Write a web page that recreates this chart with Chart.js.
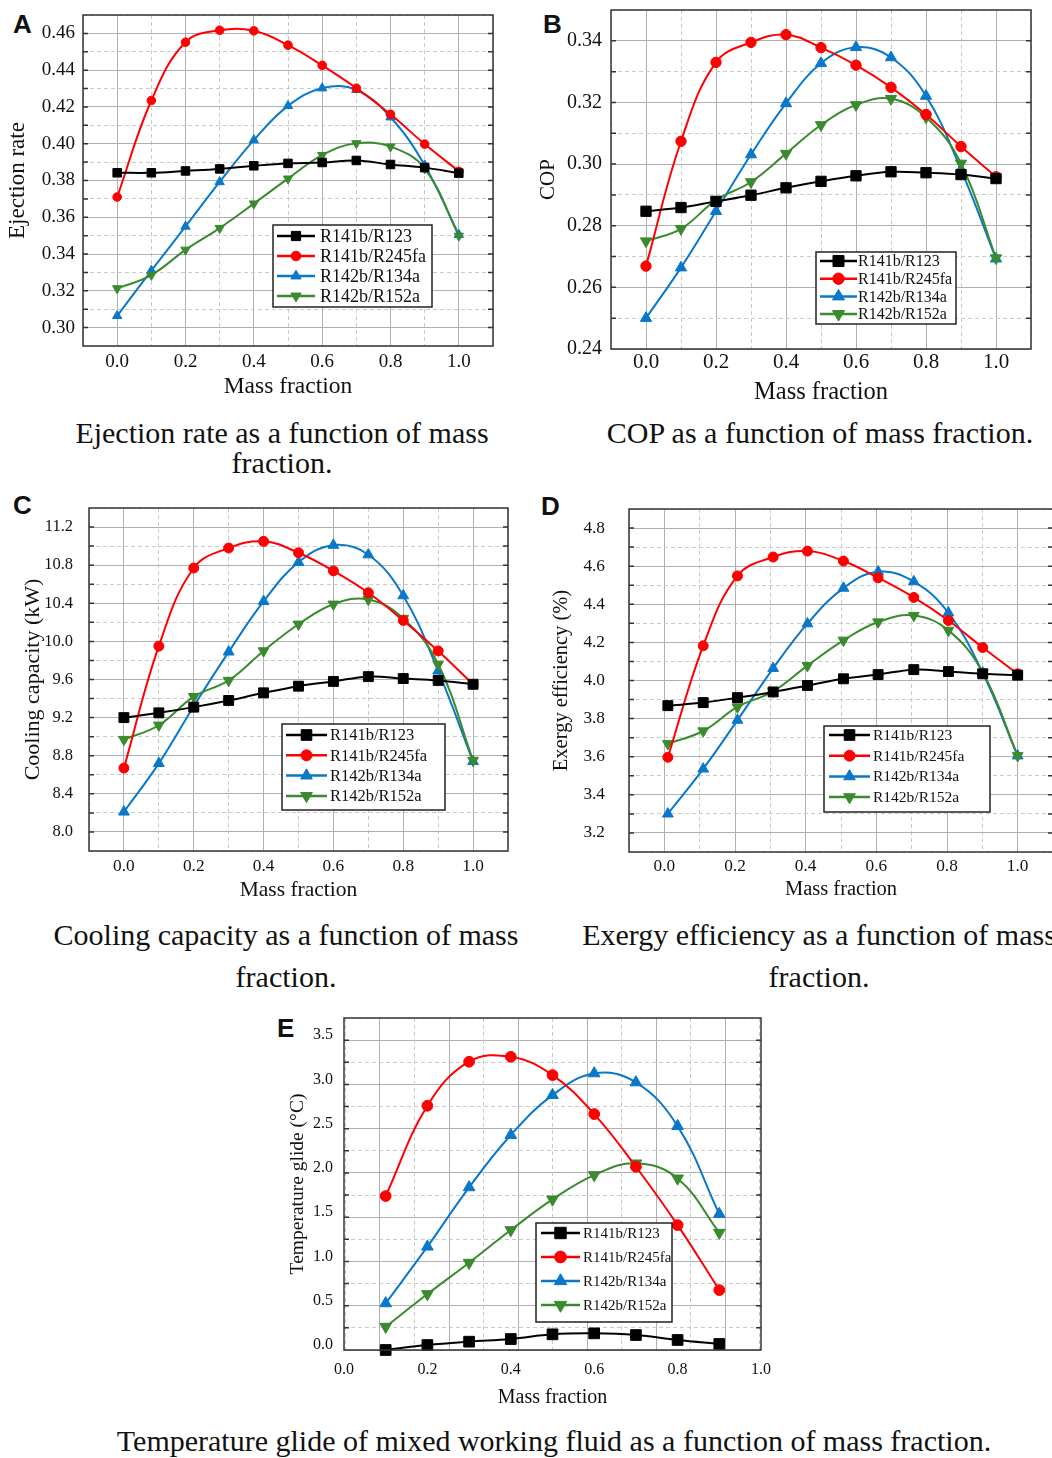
<!DOCTYPE html>
<html>
<head>
<meta charset="utf-8">
<title>Mass fraction performance charts</title>
<script src="https://cdn.jsdelivr.net/npm/chart.js@4.4.1/dist/chart.umd.min.js"></script>
<style>
  html, body { margin: 0; padding: 0; background: #fff; }
  body { position: relative; width: 1052px; height: 1458px; overflow: hidden; color: #111;
         font-family: 'Liberation Serif', 'Times New Roman', serif; }
  canvas { position: absolute; }
  .tag { position: absolute; font: bold 26px 'Liberation Sans', Arial, sans-serif; line-height: 26px; }
  .cap { position: absolute; font-size: 30px; text-align: center; white-space: nowrap; }
</style>
</head>
<body>
<div class="tag" style="left:13px;top:11px">A</div>
<div class="tag" style="left:543px;top:11px">B</div>
<div class="tag" style="left:13px;top:492px">C</div>
<div class="tag" style="left:541px;top:493px">D</div>
<div class="tag" style="left:277px;top:1015px">E</div>

<canvas id="chartA" width="510" height="405" style="left:0px;top:0px"></canvas>
<canvas id="chartB" width="522" height="410" style="left:530px;top:0px"></canvas>
<canvas id="chartC" width="530" height="420" style="left:0px;top:490px"></canvas>
<canvas id="chartD" width="530" height="420" style="left:540px;top:490px"></canvas>
<canvas id="chartE" width="510" height="410" style="left:270px;top:1005px"></canvas>

<div class="cap" style="left:32px;top:418px;width:500px;line-height:30px">Ejection rate as a function of mass<br>fraction.</div>
<div class="cap" style="left:570px;top:418px;width:500px;line-height:30px">COP as a function of mass fraction.</div>
<div class="cap" style="left:26px;top:914px;width:520px;line-height:42px">Cooling capacity as a function of mass<br>fraction.</div>
<div class="cap" style="left:559px;top:914px;width:520px;line-height:42px">Exergy efficiency as a function of mass<br>fraction.</div>
<div class="cap" style="left:54px;top:1426px;width:1000px;line-height:30px">Temperature glide of mixed working fluid as a function of mass fraction.</div>

<script>
const SERIF = "'Liberation Serif', 'Times New Roman', serif";

const seriesNames = ['R141b/R123', 'R141b/R245fa', 'R142b/R134a', 'R142b/R152a'];
const seriesColors = ['#000000', '#ff0000', '#0a78c8', '#3a8a2e'];
const seriesMarkers = ['rect', 'circle', 'triangle', 'triangleDown'];
// black on top, then red, green, blue
const drawOrder = [0, 1, 3, 2];

// x values
const massFraction = [0.0, 0.1, 0.2, 0.3, 0.4, 0.5, 0.6, 0.7, 0.8, 0.9, 1.0];
const massFractionD = [0.01, 0.11, 0.207, 0.308, 0.405, 0.507, 0.605, 0.706, 0.804, 0.901, 1.0];
const massFractionE = [0.1, 0.2, 0.3, 0.4, 0.5, 0.6, 0.7, 0.8, 0.9];

// A - ejection rate
const ejectionR123 = [0.3842, 0.3842, 0.3852, 0.3863, 0.3880, 0.3893, 0.3898, 0.3909, 0.3887, 0.3870, 0.3840];
const ejectionR245fa = [0.3710, 0.4235, 0.4552, 0.4617, 0.4614, 0.4536, 0.4426, 0.4302, 0.4160, 0.3998, 0.3850];
const ejectionR134a = [0.3064, 0.3310, 0.3550, 0.3792, 0.4020, 0.4206, 0.4302, 0.4293, 0.4144, 0.3883, 0.3505];
const ejectionR152a = [0.3213, 0.3286, 0.3423, 0.3541, 0.3674, 0.3810, 0.3938, 0.4002, 0.3984, 0.3865, 0.3499];

// B - COP
const copR123 = [0.2847, 0.2859, 0.2879, 0.2899, 0.2923, 0.2944, 0.2962, 0.2975, 0.2972, 0.2966, 0.2953];
const copR245fa = [0.2669, 0.3074, 0.3330, 0.3395, 0.3420, 0.3378, 0.3321, 0.3249, 0.3161, 0.3057, 0.2959];
const copR134a = [0.2500, 0.2664, 0.2847, 0.3031, 0.3197, 0.3327, 0.3379, 0.3346, 0.3221, 0.2982, 0.2693];
const copR152a = [0.2750, 0.2790, 0.2883, 0.2942, 0.3034, 0.3127, 0.3192, 0.3212, 0.3152, 0.3002, 0.2695];

// C - cooling capacity (kW)
const coolingR123 = [9.20, 9.25, 9.31, 9.38, 9.46, 9.53, 9.58, 9.63, 9.61, 9.59, 9.55];
const coolingR245fa = [8.67, 9.95, 10.77, 10.98, 11.05, 10.93, 10.74, 10.51, 10.22, 9.90, 9.55];
const coolingR134a = [8.21, 8.72, 9.32, 9.89, 10.42, 10.83, 11.01, 10.91, 10.48, 9.69, 8.74];
const coolingR152a = [8.97, 9.12, 9.42, 9.59, 9.90, 10.18, 10.39, 10.44, 10.24, 9.76, 8.75];

// D - exergy efficiency (%)
const exergyR123 = [3.868, 3.884, 3.910, 3.940, 3.974, 4.009, 4.031, 4.057, 4.047, 4.035, 4.028];
const exergyR245fa = [3.597, 4.182, 4.549, 4.648, 4.679, 4.627, 4.539, 4.436, 4.315, 4.173, 4.035];
const exergyR134a = [3.300, 3.536, 3.792, 4.064, 4.298, 4.485, 4.571, 4.519, 4.355, 4.040, 3.605];
const exergyR152a = [3.668, 3.735, 3.861, 3.943, 4.078, 4.211, 4.307, 4.341, 4.263, 4.043, 3.605];

// E - temperature glide (°C)
const glideR123 = [0.000, 0.056, 0.094, 0.124, 0.177, 0.188, 0.169, 0.113, 0.068];
const glideR245fa = [1.739, 2.759, 3.256, 3.312, 3.105, 2.665, 2.070, 1.411, 0.677];
const glideR134a = [0.527, 1.167, 1.837, 2.428, 2.879, 3.124, 3.022, 2.529, 1.536];
const glideR152a = [0.263, 0.632, 0.986, 1.355, 1.701, 1.976, 2.108, 1.938, 1.325];

// tick labels
const fractionTicks = ['0.0', '0.2', '0.4', '0.6', '0.8', '1.0'];
const ejectionTicks = ['0.30', '0.32', '0.34', '0.36', '0.38', '0.40', '0.42', '0.44', '0.46'];
const copTicks = ['0.24', '0.26', '0.28', '0.30', '0.32', '0.34'];
const coolingTicks = ['8.0', '8.4', '8.8', '9.2', '9.6', '10.0', '10.4', '10.8', '11.2'];
const exergyTicks = ['3.2', '3.4', '3.6', '3.8', '4.0', '4.2', '4.4', '4.6', '4.8'];
const glideTicks = ['0.0', '0.5', '1.0', '1.5', '2.0', '2.5', '3.0', '3.5'];

const MAJOR_GRID = '#b0b0b0';
const MINOR_GRID = '#cbcbcb';

function isTick(list, v) {
  return list.find(t => Math.abs(parseFloat(t) - v) < 1e-6);
}

function gridColor(c, labels) {
  return c.tick && isTick(labels, c.tick.value) ? MAJOR_GRID : MINOR_GRID;
}

function gridDash(c, labels) {
  return c.tick && !isTick(labels, c.tick.value) ? [4, 3] : [];
}

function markerSize(style, mk) {
  if (style === 'rect') return mk * 1.4;
  if (style === 'circle') return mk;
  return mk * 1.25;
}

// keep the plot box exactly where the axis sizes put it
function noEdgePadding(s) {
  s.paddingTop = 0;
  s.paddingBottom = 0;
  s.paddingLeft = 0;
  s.paddingRight = 0;
}

function buildDatasets(xs, rows, mk) {
  return rows.map((ys, i) => {
    const style = seriesMarkers[i];
    return {
      label: seriesNames[i],
      data: xs.map((x, j) => ({ x: x, y: ys[j] })),
      borderColor: seriesColors[i],
      backgroundColor: seriesColors[i],
      borderWidth: 2,
      tension: 0.4,
      pointStyle: style === 'triangleDown' ? 'triangle' : style,
      pointRotation: style === 'triangleDown' ? 180 : 0,
      pointRadius: markerSize(style, mk),
      pointBorderWidth: 1,
      clip: false,
      order: drawOrder[i]
    };
  });
}

// frame round the plot with small inner ticks on left and right
const frameTicks = {
  id: 'frameTicks',
  afterDatasetsDraw(chart, args, opts) {
    const { ctx, chartArea: a, scales } = chart;
    const ys = scales.y;
    const len = opts.len || 5;
    ctx.save();
    ctx.strokeStyle = '#333';
    ctx.lineWidth = 1.5;
    ctx.beginPath();
    ys.ticks.forEach(t => {
      const py = ys.getPixelForValue(t.value);
      if (py <= a.top + 1 || py >= a.bottom - 1) return;
      ctx.moveTo(a.left, py);
      ctx.lineTo(a.left + len, py);
      ctx.moveTo(a.right, py);
      ctx.lineTo(a.right - len, py);
    });
    ctx.stroke();
    ctx.strokeRect(a.left, a.top, a.right - a.left, a.bottom - a.top);
    ctx.restore();
  }
};

// boxed legend inside the plot
const boxLegend = {
  id: 'boxLegend',
  afterDraw(chart, args, opts) {
    if (!opts.box) return;
    const ctx = chart.ctx;
    const [bx, by, bw, bh] = opts.box;
    ctx.save();
    ctx.fillStyle = '#fff';
    ctx.fillRect(bx, by, bw, bh);
    ctx.strokeStyle = '#222';
    ctx.lineWidth = 1.5;
    ctx.strokeRect(bx, by, bw, bh);
    ctx.font = opts.fontSize + 'px ' + SERIF;
    ctx.textBaseline = 'middle';
    ctx.textAlign = 'left';
    chart.data.datasets.forEach((ds, i) => {
      const y = by + opts.firstRow + i * opts.rowStep;
      ctx.strokeStyle = ds.borderColor;
      ctx.lineWidth = 2.5;
      ctx.beginPath();
      ctx.moveTo(bx + opts.lineFrom, y);
      ctx.lineTo(bx + opts.lineTo, y);
      ctx.stroke();
      ctx.fillStyle = ds.backgroundColor;
      ctx.lineWidth = 1;
      Chart.helpers.drawPoint(ctx, {
        pointStyle: ds.pointStyle, rotation: ds.pointRotation,
        radius: ds.pointRadius + 0.5, borderWidth: 1
      }, bx + (opts.lineFrom + opts.lineTo) / 2, y);
      ctx.fillStyle = '#111';
      ctx.fillText(ds.label, bx + opts.textX, y + 1);
    });
    ctx.restore();
  }
};

Chart.register(frameTicks, boxLegend);

function yAxis(p) {
  return {
    type: 'linear',
    min: p.min,
    max: p.max,
    afterFit: s => { s.width = p.width; noEdgePadding(s); },
    ticks: {
      stepSize: p.step, autoSkip: false, maxTicksLimit: 100, includeBounds: false,
      padding: p.pad, labelOffset: p.labelOffset || 0, color: '#111',
      font: { family: SERIF, size: p.size },
      callback: v => isTick(p.labels, v) || ''
    },
    grid: { drawTicks: false, lineWidth: 1, color: c => gridColor(c, p.labels) },
    border: { display: false, dash: c => gridDash(c, p.labels) },
    title: {
      display: true, text: p.title, color: '#111',
      font: { family: SERIF, size: p.titleSize },
      padding: { top: p.titlePad, bottom: 0 }
    }
  };
}

function xAxis(p) {
  return {
    type: 'linear',
    position: 'bottom',
    min: p.min,
    max: p.max,
    afterFit: s => { s.height = p.height; noEdgePadding(s); },
    ticks: {
      stepSize: 0.1, autoSkip: false, maxRotation: 0, minRotation: 0, maxTicksLimit: 100,
      padding: p.pad, color: '#111',
      font: { family: SERIF, size: p.size },
      callback: v => isTick(fractionTicks, v) || ''
    },
    grid: p.noGrid
      ? { display: false, drawTicks: false }
      : { drawTicks: false, lineWidth: 1, color: c => gridColor(c, fractionTicks) },
    border: { display: false, dash: c => gridDash(c, fractionTicks) },
    title: {
      display: true, text: 'Mass fraction', color: '#111',
      font: { family: SERIF, size: p.titleSize },
      padding: { top: 0, bottom: p.titlePad }
    }
  };
}

function makePanel(id, cfg) {
  const scales = { x: xAxis(cfg.x), y: yAxis(cfg.y) };
  if (cfg.extraGrid) {
    // panel E: vertical grid not tied to the labelled axis
    scales.xg = {
      type: 'linear', position: 'bottom',
      min: cfg.extraGrid.min, max: cfg.extraGrid.max,
      afterFit: s => { s.height = 0; noEdgePadding(s); },
      ticks: { display: false, stepSize: 1, includeBounds: false, maxTicksLimit: 100 },
      grid: {
        drawTicks: false, lineWidth: 1,
        color: c => (c.tick && Math.round(c.tick.value) % 2 === 0) ? MAJOR_GRID : MINOR_GRID
      },
      border: {
        display: false,
        dash: c => (c.tick && Math.round(c.tick.value) % 2 !== 0) ? [4, 3] : []
      }
    };
  }
  return new Chart(document.getElementById(id), {
    type: 'line',
    data: { datasets: buildDatasets(cfg.xs, cfg.rows, cfg.marker) },
    options: {
      responsive: false,
      animation: false,
      devicePixelRatio: 1,
      events: [],
      layout: { padding: { left: 0, top: cfg.padTop, right: cfg.padRight, bottom: 0 } },
      plugins: {
        legend: { display: false },
        tooltip: { enabled: false },
        frameTicks: { len: 5 },
        boxLegend: cfg.legend
      },
      scales: scales
    }
  });
}

makePanel('chartA', {
  xs: massFraction,
  rows: [ejectionR123, ejectionR245fa, ejectionR134a, ejectionR152a],
  marker: 4.3,
  padTop: 15, padRight: 17,
  x: { min: -0.1, max: 1.1, height: 59, pad: 4.6, size: 19, titleSize: 23.5, titlePad: 3.9 },
  y: { min: 0.29, max: 0.47, step: 0.01, labels: ejectionTicks, width: 83, pad: 8, size: 19,
       title: 'Ejection rate', titleSize: 23, titlePad: 4.2 },
  legend: { box: [273, 225, 159, 82], firstRow: 11, rowStep: 20, lineFrom: 4, lineTo: 42, textX: 47, fontSize: 18 }
});

makePanel('chartB', {
  xs: massFraction,
  rows: [copR123, copR245fa, copR134a, copR152a],
  marker: 5.2,
  padTop: 10, padRight: 21,
  x: { min: -0.1, max: 1.1, height: 61, pad: 0.5, size: 21, titleSize: 24.5, titlePad: 2.3 },
  y: { min: 0.24, max: 0.35, step: 0.01, labels: copTicks, width: 81, pad: 9, size: 20,
       title: 'COP', titleSize: 21, titlePad: 5.4 },
  legend: { box: [286, 252, 140, 72], firstRow: 9, rowStep: 17.7, lineFrom: 4, lineTo: 41, textX: 42, fontSize: 16 }
});

makePanel('chartC', {
  xs: massFraction,
  rows: [coolingR123, coolingR245fa, coolingR134a, coolingR152a],
  marker: 5,
  padTop: 18, padRight: 22,
  x: { min: -0.1, max: 1.1, height: 59, pad: 4.6, size: 17.3, titleSize: 21.5, titlePad: 7.1 },
  y: { min: 7.8, max: 11.4, step: 0.2, labels: coolingTicks, width: 89, pad: 16, size: 16.5,
       title: 'Cooling capacity (kW)', titleSize: 22, titlePad: 19.8 },
  legend: { box: [282, 234, 163, 86], firstRow: 11, rowStep: 20.3, lineFrom: 4, lineTo: 45, textX: 48, fontSize: 16.5 }
});

makePanel('chartD', {
  xs: massFractionD,
  rows: [exergyR123, exergyR245fa, exergyR134a, exergyR152a],
  marker: 5,
  padTop: 19, padRight: 17,
  x: { min: -0.1, max: 1.1, height: 58, pad: 3.6, size: 17.3, titleSize: 20.5, titlePad: 7.7 },
  y: { min: 3.1, max: 4.9, step: 0.1, labels: exergyTicks, width: 89, pad: 24, size: 17.3,
       title: 'Exergy efficiency (%)', titleSize: 20.5, titlePad: 9.7 },
  legend: { box: [284, 236, 166, 86], firstRow: 9, rowStep: 20.7, lineFrom: 5, lineTo: 46, textX: 49, fontSize: 15.5 }
});

makePanel('chartE', {
  xs: massFractionE,
  rows: [glideR123, glideR245fa, glideR134a, glideR152a],
  marker: 5.4,
  padTop: 13, padRight: 19,
  x: { min: 0, max: 1, height: 65, pad: 10.4, size: 16, titleSize: 20, titlePad: 5, noGrid: true },
  y: { min: 0, max: 3.75, step: 0.25, labels: glideTicks, width: 74, pad: 11, size: 16, labelOffset: -5,
       title: 'Temperature glide (°C)', titleSize: 19.5, titlePad: 16.3 },
  extraGrid: { min: -1.043, max: 11.04 },
  legend: { box: [266, 218, 136, 99], firstRow: 10, rowStep: 24, lineFrom: 5, lineTo: 44, textX: 47, fontSize: 15 }
});
</script>
</body>
</html>
